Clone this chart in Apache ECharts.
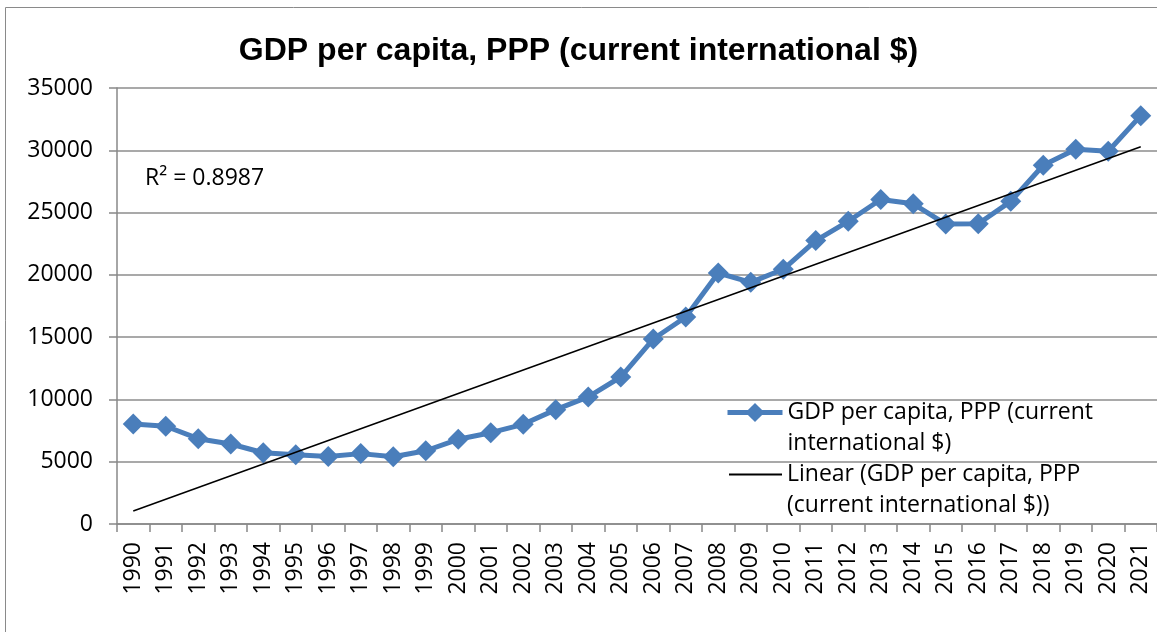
<!DOCTYPE html>
<html>
<head>
<meta charset="utf-8">
<title>GDP per capita, PPP</title>
<script src="https://cdn.jsdelivr.net/npm/echarts@6/dist/echarts.min.js"></script>
<style>
    html, body { margin: 0; padding: 0; background: #fff; }
    #chart { width: 1157px; height: 632px; }
</style>
</head>
<body>
<div id="chart"></div>
<script>
// 年份
const years = ['1990', '1991', '1992', '1993', '1994', '1995', '1996', '1997', '1998', '1999',
    '2000', '2001', '2002', '2003', '2004', '2005', '2006', '2007', '2008', '2009',
    '2010', '2011', '2012', '2013', '2014', '2015', '2016', '2017', '2018', '2019',
    '2020', '2021'];
// 人均GDP
const gdpValues = [8030, 7850, 6850, 6420, 5720, 5560, 5420, 5650, 5400, 5880,
    6800, 7330, 8000, 9180, 10200, 11800, 14850, 16620, 20150, 19400,
    20450, 22750, 24300, 26050, 25700, 24080, 24100, 25900, 28800, 30080,
    29920, 32780];
// 线性趋势线两端 (1990, 2021)
const trendEnds = [1050, 30280];
const yTicks = [0, 35000, 5000];
const seriesName = 'GDP per capita, PPP (current international $)';
const trendName = 'Linear (GDP per capita, PPP (current international $))';

let trendData = years.map(function (y, i) {
    if (i === 0) return trendEnds[0];
    if (i === years.length - 1) return trendEnds[1];
    return null;
});

let font = '"Open Sans", "Noto Sans", sans-serif';
let myChart = echarts.init(document.getElementById('chart'));

// 图例文字换行 (首行留空, 让第一行文字对齐图标)
function legendText(name) {
    if (name === seriesName) return '\nGDP per capita, PPP (current\ninternational $)';
    return '\nLinear (GDP per capita, PPP\n(current international $))';
}

let legendTextStyle = { fontFamily: font, fontSize: 23, lineHeight: 31, color: '#000' };

let option = {
    animation: false,
    backgroundColor: '#fff',
    title: {
        text: 'GDP per capita, PPP (current international $)',
        left: 'center',
        top: 30,
        textStyle: {
            fontFamily: '"Liberation Sans", Arial, sans-serif',
            fontWeight: 'bold',
            fontSize: 32,
            color: '#000'
        }
    },
    graphic: [{
        type: 'rect',
        shape: { x: 5.5, y: 7.5, width: 1300, height: 800 },
        style: { fill: 'none', stroke: '#8a8a8a', lineWidth: 1 },
        silent: true
    }, {
        type: 'text',
        left: 145,
        top: 167,
        style: { text: 'R² = 0.8987', font: '23px ' + font, fill: '#000' }
    }],
    legend: [{
        data: [seriesName],
        left: 725,
        top: 366,
        padding: 0,
        itemWidth: 55,
        itemHeight: 24,
        lineStyle: { width: 5 },
        formatter: legendText,
        textStyle: legendTextStyle
    }, {
        data: [{ name: trendName, icon: 'rect' }],
        left: 729,
        top: 428,
        padding: 0,
        itemWidth: 53,
        itemHeight: 2,
        formatter: legendText,
        textStyle: legendTextStyle
    }],
    grid: {
        left: 117,
        right: -6,
        top: 88,
        bottom: 108,
        containLabel: false
    },
    xAxis: {
        type: 'category',
        data: years,
        boundaryGap: true,
        axisLine: { lineStyle: { color: '#888', width: 1.5 } },
        axisTick: { show: true, length: 8, lineStyle: { color: '#888', width: 1.5 } },
        axisLabel: {
            rotate: 90,
            interval: 0,
            margin: 18,
            color: '#000',
            fontFamily: font,
            fontSize: 23
        }
    },
    yAxis: {
        type: 'value',
        min: yTicks[0],
        max: yTicks[1],
        interval: yTicks[2],
        axisLine: { show: true, lineStyle: { color: '#888', width: 1.5 } },
        axisTick: { show: true, length: 8, lineStyle: { color: '#888', width: 1.5 } },
        axisLabel: {
            margin: 24,
            color: '#000',
            fontFamily: font,
            fontSize: 23,
            formatter: function (v) { return String(v); }
        },
        splitLine: { lineStyle: { color: '#8c8c8c', width: 1.5 } }
    },
    series: [{
        name: seriesName,
        type: 'line',
        data: gdpValues,
        symbol: 'diamond',
        symbolSize: 21,
        lineStyle: { color: '#4a7ebb', width: 5 },
        itemStyle: { color: '#4a7ebb' },
        z: 3
    }, {
        name: trendName,
        type: 'line',
        data: trendData,
        connectNulls: true,
        symbol: 'none',
        lineStyle: { color: '#000', width: 1.5 },
        itemStyle: { color: '#000' },
        z: 4
    }]
};
myChart.setOption(option);
</script>
</body>
</html>
